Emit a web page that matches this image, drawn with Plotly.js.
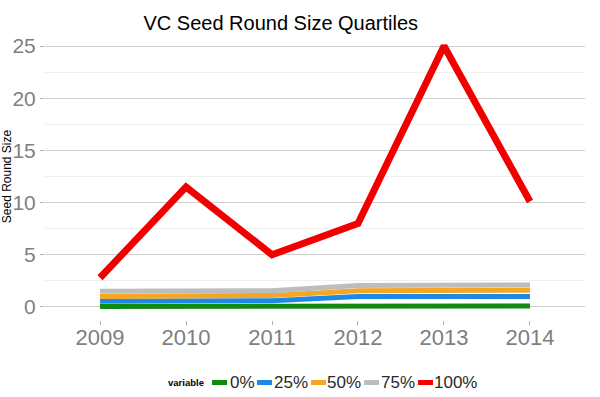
<!DOCTYPE html>
<html>
<head>
<meta charset="utf-8">
<script src="https://cdn.plot.ly/plotly-3.0.1.min.js"></script>
<style>html,body{margin:0;padding:0;background:#fff;}#chart{width:600px;height:397px;}</style>
</head>
<body>
<div id="chart"></div>
<script>
const years = [2009, 2010, 2011, 2012, 2013, 2014];
const q0   = [0.05, 0.05, 0.05, 0.1, 0.1, 0.1];
const q25  = [0.55, 0.55, 0.6, 1.0, 1.0, 1.0];
const q50  = [1.0, 1.05, 1.1, 1.55, 1.6, 1.6];
const q75  = [1.5, 1.55, 1.55, 2.05, 2.1, 2.1];
const q100 = [2.8, 11.5, 5.0, 8.0, 25.0, 10.1];
const seriesNames = ['0%', '25%', '50%', '75%', '100%'];
const seriesData = [q0, q25, q50, q75, q100];
const colors = ['#118a11', '#1e88e5', '#f5a623', '#bdbdbd', '#f20000'];
const widths = [5, 5, 5, 5, 7];

const traces = seriesData.map((vals, i) => ({
  x: years, y: vals, type: 'scatter', mode: 'lines', name: seriesNames[i],
  line: {color: colors[i], width: widths[i]}, showlegend: false
}));

// Custom legend (ggplot style): small swatches + labels, placed in paper coords
const W = 600, H = 397, mL = 45, mR = 15, mT = 33, mB = 77;
const pw = W - mL - mR, ph = H - mT - mB;
const px = v => (v - mL) / pw;
const py = v => (H - mB - v) / ph;
const legY = 382.5;
const swatchLeft = [212, 257, 311, 364, 418];
const textLeft = [230, 274, 327, 381, 434];
const shapes = [];
const annotations = [{
  xref: 'paper', yref: 'paper', x: px(166), y: py(legY), xanchor: 'left', yanchor: 'middle',
  text: '<b>variable</b>', showarrow: false, font: {size: 9.5, color: '#000'}
}];
seriesNames.forEach((n, i) => {
  shapes.push({
    type: 'rect', xref: 'paper', yref: 'paper',
    x0: px(swatchLeft[i]), x1: px(swatchLeft[i] + 15),
    y0: py(legY + 2.5), y1: py(legY - 2.5),
    fillcolor: colors[i], line: {width: 0}
  });
  annotations.push({
    xref: 'paper', yref: 'paper', x: px(textLeft[i] - 2), y: py(legY), xanchor: 'left', yanchor: 'middle',
    text: n, showarrow: false, font: {size: 17, color: '#2a2a2a'}
  });
});

const layout = {
  width: W, height: H,
  margin: {l: mL, r: mR, t: mT, b: mB},
  paper_bgcolor: '#fff', plot_bgcolor: '#fff',
  font: {family: 'Liberation Sans, Arial, sans-serif'},
  title: {text: 'VC Seed Round Size Quartiles', font: {size: 20, color: '#000'}, x: 0.468, xanchor: 'center', y: 0.942, yanchor: 'middle'},
  xaxis: {
    range: [2008.36, 2014.64], tickvals: years, ticktext: years.map(String),
    showgrid: false, zeroline: false, showline: false,
    ticks: 'outside', ticklen: 4, tickcolor: '#b0b0b0', ticklabelstandoff: -6,
    tickfont: {size: 22, color: '#7f7f7f'}
  },
  yaxis: {
    range: [-1.25, 26.25], tickvals: [0, 5, 10, 15, 20, 25],
    showgrid: true, gridcolor: '#cfcfcf', gridwidth: 1, zeroline: false, showline: false,
    ticks: 'outside', ticklen: 4, tickcolor: '#b0b0b0',
    tickfont: {size: 21, color: '#7f7f7f'},
    minor: {tickvals: [2.5, 7.5, 12.5, 17.5, 22.5], showgrid: true, gridcolor: '#f0f0f0', ticks: ''},
    title: {text: 'Seed Round Size', font: {size: 12, color: '#000'}, standoff: 5}
  },
  showlegend: false,
  shapes: shapes,
  annotations: annotations
};

Plotly.newPlot('chart', traces, layout, {displayModeBar: false, staticPlot: true});
</script>
</body>
</html>
